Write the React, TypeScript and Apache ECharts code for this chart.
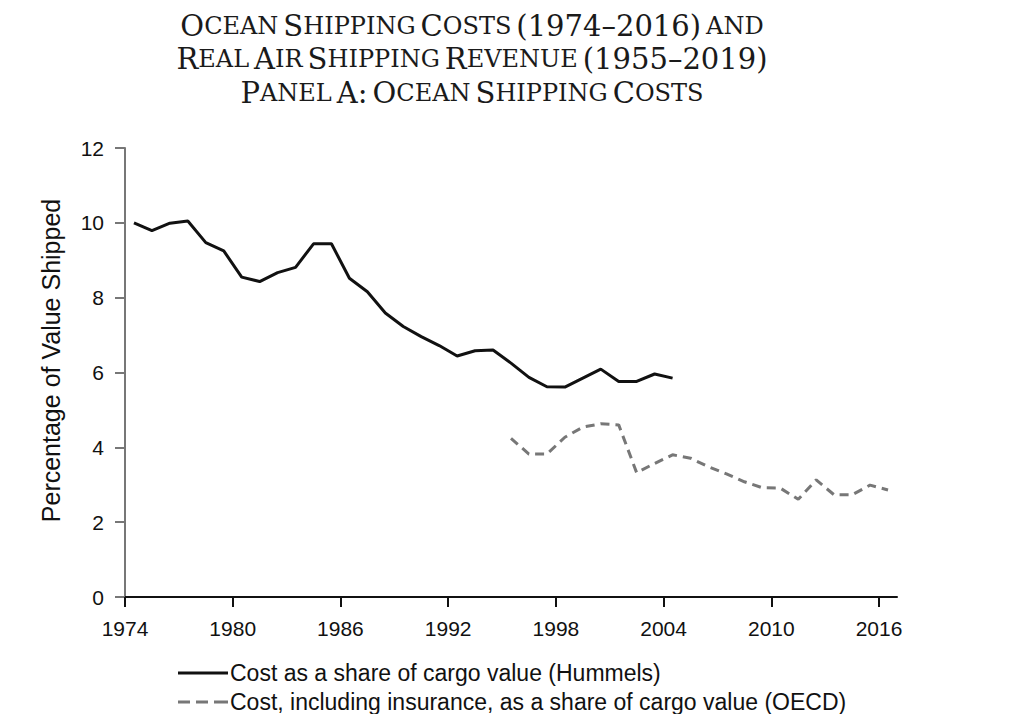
import React, { useEffect, useRef } from "react";
import * as echarts from "echarts";

const hummelsStartYear = 1974;
const hummelsValues = [
  10.0, 9.79, 9.99, 10.05, 9.47, 9.25, 8.55, 8.43, 8.67, 8.81, 9.44, 9.44, 8.52,
  8.16, 7.59, 7.23, 6.96, 6.72, 6.44, 6.58, 6.6, 6.25, 5.87, 5.62, 5.61, 5.85,
  6.09, 5.76, 5.76, 5.96, 5.85,
];
const oecdStartYear = 1995;
const oecdValues = [
  4.24, 3.82, 3.82, 4.27, 4.54, 4.63, 4.6, 3.32, 3.57, 3.8, 3.71, 3.48, 3.29,
  3.08, 2.92, 2.91, 2.61, 3.13, 2.73, 2.73, 2.99, 2.86,
];
const xTickLabels = [1974, 1980, 1986, 1992, 1998, 2004, 2010, 2016];
const seriesNames = [
  "Cost as a share of cargo value (Hummels)",
  "Cost, including insurance, as a share of cargo value (OECD)",
];

const sc = (word: string) => `{c|${word[0]}}{s|${word.slice(1)}}`;
const titleText = [
  `${sc("OCEAN")} ${sc("SHIPPING")} ${sc("COSTS")} {c|(1974–2016)} {s|AND}`,
  `${sc("REAL")} ${sc("AIR")} ${sc("SHIPPING")} ${sc("REVENUE")} {c|(1955–2019)}`,
  `${sc("PANEL")} {c|A:} ${sc("OCEAN")} ${sc("SHIPPING")} ${sc("COSTS")}`,
].join("\n");

export default function App() {
  const ref = useRef<HTMLDivElement>(null);
  useEffect(() => {
    document.body.style.margin = "0";
    if (!ref.current) return;
    const chart = echarts.init(ref.current, undefined, { renderer: "svg" });
    const sans = "Liberation Sans, Arial, sans-serif";
    const serif = "DejaVu Serif, Liberation Serif, serif";
    chart.setOption({
      animation: false,
      backgroundColor: "#fff",
      title: {
        text: titleText,
        left: 467,
        top: 4,
        textAlign: "center",
        textStyle: {
          fontWeight: "normal",
          rich: {
            c: { fontFamily: serif, fontSize: 29, fontWeight: "normal", color: "#1a1a1a", lineHeight: 33.5 },
            s: { fontFamily: serif, fontSize: 24, fontWeight: "normal", color: "#1a1a1a", lineHeight: 33.5 },
          },
        },
      },
      grid: { left: 125, right: 127, top: 148, bottom: 117 },
      xAxis: {
        type: "value",
        min: 1974,
        max: 2017,
        axisLine: { show: true, lineStyle: { color: "#111", width: 2 } },
        axisTick: {
          show: true,
          length: 10,
          customValues: xTickLabels,
          lineStyle: { color: "#111", width: 2 },
        },
        axisLabel: {
          customValues: xTickLabels,
          formatter: (v: number) => String(v),
          margin: 21,
          fontFamily: sans,
          fontSize: 21,
          color: "#111",
        },
        splitLine: { show: false },
      },
      yAxis: {
        type: "value",
        min: 0,
        max: 12,
        interval: 2,
        name: "Percentage of Value Shipped",
        nameLocation: "middle",
        nameGap: 62,
        nameTextStyle: { fontFamily: sans, fontSize: 25, color: "#111", padding: [0, 0, 0, 24] },
        axisLine: { show: true, lineStyle: { color: "#777", width: 2 } },
        axisTick: { show: true, length: 10, lineStyle: { color: "#777", width: 2 } },
        axisLabel: { margin: 21, fontFamily: sans, fontSize: 21, color: "#111" },
        splitLine: { show: false },
      },
      legend: {
        orient: "vertical",
        left: 178,
        top: 661,
        height: 80,
        padding: 0,
        itemWidth: 50,
        itemHeight: 3,
        itemGap: 5,
        textStyle: { fontFamily: sans, fontSize: 23, lineHeight: 24, color: "#111", padding: [0, 0, 0, -3] },
        data: [
          { name: seriesNames[0], icon: "path://M0,0H50V3H0Z" },
          { name: seriesNames[1], icon: "path://M0,0H12V3H0Z M18,0H30V3H18Z M36,0H50V3H36Z" },
        ],
      },
      series: [
        {
          name: seriesNames[0],
          type: "line",
          symbol: "none",
          lineStyle: { color: "#111", width: 3 },
          itemStyle: { color: "#111" },
          data: hummelsValues.map((v, i) => [hummelsStartYear + i + 0.5, v]),
        },
        {
          name: seriesNames[1],
          type: "line",
          symbol: "none",
          lineStyle: { color: "#777", width: 3, type: [9, 6] },
          itemStyle: { color: "#777" },
          data: oecdValues.map((v, i) => [oecdStartYear + i + 0.5, v]),
        },
      ],
    });
    return () => chart.dispose();
  }, []);
  return <div ref={ref} style={{ width: 1024, height: 714 }} />;
}
